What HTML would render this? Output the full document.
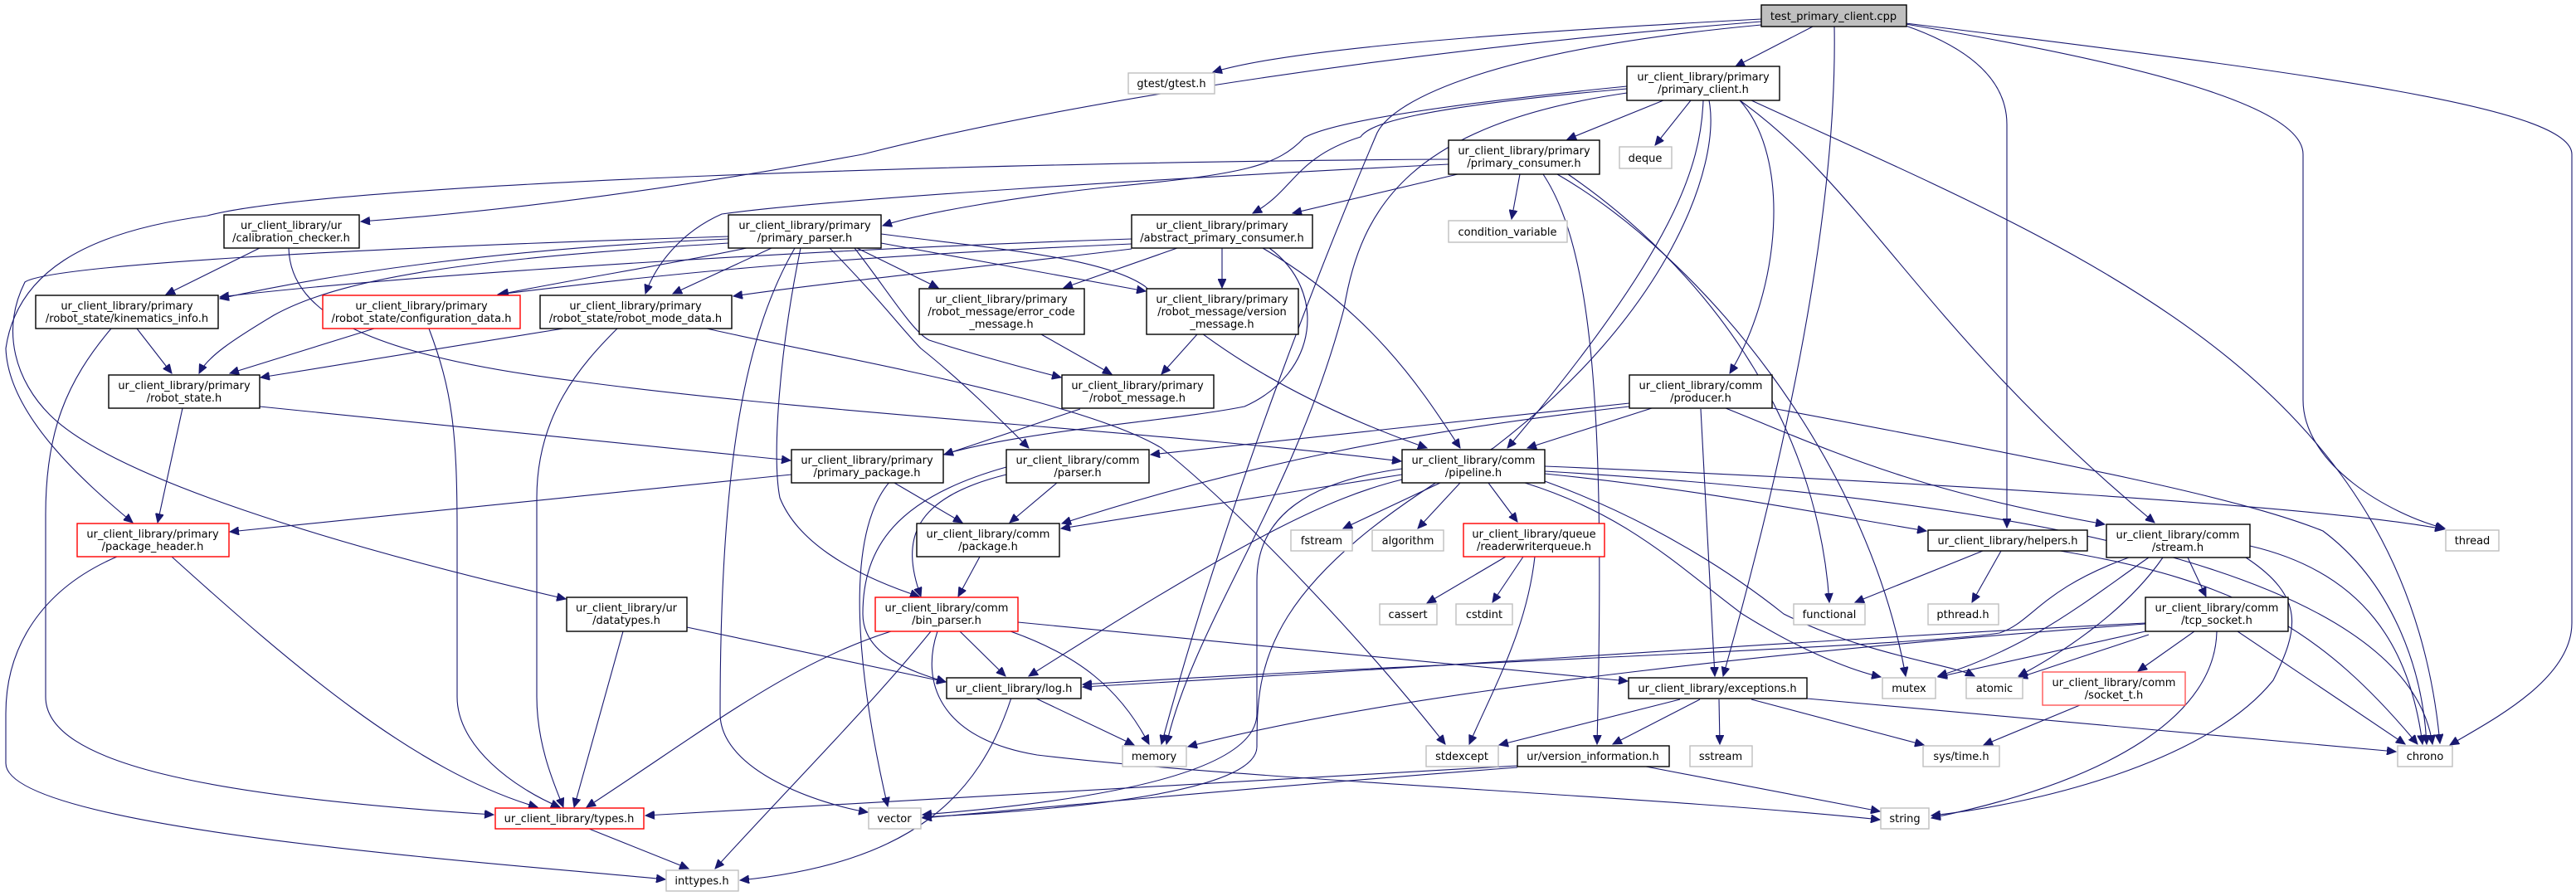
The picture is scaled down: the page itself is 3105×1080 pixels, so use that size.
<!DOCTYPE html>
<html><head><meta charset="utf-8"><style>
html,body{margin:0;padding:0;background:#fff;}
svg{display:block;}
text{font-family:"DejaVu Sans","Liberation Sans",sans-serif;font-size:13px;fill:#000;text-anchor:middle;}
.e{fill:none;stroke:#191970;stroke-width:1.1;marker-end:url(#a);}
.n{fill:#fff;stroke:#000;stroke-width:1.4;}
.g{fill:#fff;stroke:#bfbfbf;stroke-width:1.4;}
.r{fill:#fff;stroke:#ff0000;stroke-width:1.4;}
</style></head><body>
<svg width="3105" height="1080" viewBox="0 0 3105 1080" xmlns="http://www.w3.org/2000/svg">
<defs><marker id="a" markerUnits="userSpaceOnUse" markerWidth="12" markerHeight="10" refX="11" refY="5" orient="auto"><path d="M0,0 L11,5 L0,10 z" fill="#191970" stroke="#191970"/></marker></defs>
<g>
<!-- T -->
<path class="e" d="M2187,31 L2092,80"/>
<path class="e" d="M2211,31 C2214,200 2180,450 2077,815"/>
<path class="e" d="M2297,31 C2380,60 2419,100 2419,150 L2419,636"/>
<path class="e" d="M2297,29 C2600,80 2776,130 2776,186 L2776,482 C2776,560 2880,620 2947,637"/>
<path class="e" d="M2297,28 C2800,90 3100,130 3100,186 L3100,751 C3100,820 3000,870 2953,898"/>
<path class="e" d="M2123,23 C1800,40 1550,60 1462,87"/>
<path class="e" d="M2123,26 C1700,60 1300,120 1040,186 C800,230 600,255 435,267"/>
<path class="e" d="M2123,30 C1800,60 1680,120 1660,160 C1600,300 1480,600 1400,897"/>
<!-- PC -->
<path class="e" d="M1961,112 C1700,150 1640,250 1620,372 C1560,600 1440,750 1406,897"/>
<path class="e" d="M2005,121 L1889,168"/>
<path class="e" d="M2038,121 L1995,175"/>
<path class="e" d="M1961,107 C1700,130 1650,150 1640,165 C1560,190 1560,230 1510,257"/>
<path class="e" d="M1961,104 C1700,130 1600,150 1572,166 C1540,200 1500,210 1340,225 C1200,240 1100,260 1064,272"/>
<path class="e" d="M2053,121 C2050,200 2020,300 1817,540"/>
<path class="e" d="M2097,121 C2160,190 2146,350 2085,450"/>
<path class="e" d="M2097,121 C2250,230 2320,400 2597,630"/>
<path class="e" d="M2111,121 C2500,300 2900,450 2941,896"/>
<path class="e" d="M2060,121 C2075,200 2010,380 1800,540 C1520,700 1515,800 1515,900 C1515,965 1200,980 1112,985"/>
<!-- PCons -->
<path class="e" d="M1832,210 L1822,264"/>
<path class="e" d="M1757,210 L1558,257"/>
<path class="e" d="M1860,210 C1920,300 1935,500 1925,897"/>
<path class="e" d="M1890,210 C2050,320 2190,500 2205,726"/>
<path class="e" d="M1877,210 C2050,310 2250,550 2297,815"/>
<path class="e" d="M1746,192 C1200,195 400,220 250,260 C100,280 20,330 7,420 C10,500 100,580 160,630"/>
<path class="e" d="M1746,198 C1400,215 1000,240 870,258 C820,280 790,320 778,354"/>
<!-- apc -->
<path class="e" d="M1419,299 L1282,347"/>
<path class="e" d="M1473,299 L1473,347"/>
<path class="e" d="M1522,299 C1660,380 1720,480 1760,540"/>
<path class="e" d="M1364,288 C1000,300 500,330 265,358"/>
<path class="e" d="M1364,294 C1000,310 800,330 600,355"/>
<path class="e" d="M1364,300 C1200,320 1000,340 884,357"/>
<path class="e" d="M1530,299 C1600,350 1590,450 1500,490 C1400,510 1200,520 1100,560 C1010,600 1030,800 1070,972"/>
<!-- pparser -->
<path class="e" d="M878,288 C600,300 400,330 265,360"/>
<path class="e" d="M900,299 C800,320 700,335 602,355"/>
<path class="e" d="M930,299 L811,354"/>
<path class="e" d="M878,293 C600,310 420,330 330,380 C280,410 250,430 240,450"/>
<path class="e" d="M958,299 C900,400 868,550 868,860 C868,930 990,970 1046,979"/>
<path class="e" d="M965,299 C940,420 930,550 940,600 C960,650 1020,690 1108,719"/>
<path class="e" d="M1000,299 C1060,360 1090,400 1110,420 C1160,460 1200,500 1240,540"/>
<path class="e" d="M1030,299 C1070,350 1100,400 1120,410 C1150,420 1220,440 1279,455"/>
<path class="e" d="M1062,282 C1200,300 1330,310 1380,345 C1450,410 1550,480 1720,540"/>
<path class="e" d="M1033,299 L1131,347"/>
<path class="e" d="M1062,293 L1381,351"/>
<path class="e" d="M878,285 C400,300 60,320 30,340 C0,400 20,460 60,500 C150,590 500,680 682,722"/>
<!-- calib / state -->
<path class="e" d="M313,299 L200,355"/>
<path class="e" d="M348,299 C350,380 450,430 700,460 C1000,500 1400,520 1689,556"/>
<path class="e" d="M165,396 L207,450"/>
<path class="e" d="M134,396 C80,460 55,520 55,620 L55,840 C55,920 250,960 595,982"/>
<path class="e" d="M451,396 L277,450"/>
<path class="e" d="M517,396 C545,470 551,520 551,640 L551,840 C551,900 620,950 675,973"/>
<path class="e" d="M679,396 L314,455"/>
<path class="e" d="M744,396 C700,440 647,500 647,600 L647,840 C647,900 670,950 679,973"/>
<path class="e" d="M852,396 C1000,430 1300,480 1400,540 C1500,620 1650,780 1742,897"/>
<path class="e" d="M220,492 L190,630"/>
<path class="e" d="M313,490 L953,555"/>
<path class="e" d="M954,572 L277,641"/>
<path class="e" d="M207,671 C350,800 500,930 648,973"/>
<path class="e" d="M141,671 C50,710 7,780 7,860 L7,920 C7,1000 600,1040 802,1060"/>
<path class="e" d="M751,761 L692,973"/>
<path class="e" d="M828,756 L1140,822"/>
<path class="e" d="M710,999 L830,1047"/>
<!-- messages / comm -->
<path class="e" d="M1255,403 L1340,451"/>
<path class="e" d="M1443,403 L1400,451"/>
<path class="e" d="M1302,493 L1138,548"/>
<path class="e" d="M1078,582 L1160,630"/>
<path class="e" d="M1274,582 L1217,630"/>
<path class="e" d="M1213,572 C1100,600 1085,650 1110,719"/>
<path class="e" d="M1213,563 C1080,600 1040,660 1040,740 C1040,790 1100,810 1140,822"/>
<path class="e" d="M1181,671 L1155,719"/>
<path class="e" d="M1074,761 C950,800 850,880 707,973"/>
<path class="e" d="M1122,761 C1050,850 950,950 862,1047"/>
<path class="e" d="M1157,761 L1212,815"/>
<path class="e" d="M1218,761 C1300,790 1350,830 1385,897"/>
<path class="e" d="M1130,761 C1110,820 1130,890 1250,910 C1500,940 2000,960 2266,988"/>
<path class="e" d="M1227,750 L1962,821"/>
<path class="e" d="M1247,841 L1367,898"/>
<path class="e" d="M1219,841 C1180,960 1100,1040 892,1061"/>
<!-- pipeline -->
<path class="e" d="M1736,582 L1619,637"/>
<path class="e" d="M1760,582 L1709,637"/>
<path class="e" d="M1794,582 L1829,629"/>
<path class="e" d="M1690,572 L1279,637"/>
<path class="e" d="M1690,578 C1600,600 1500,650 1240,815"/>
<path class="e" d="M1690,565 C1580,580 1515,620 1515,700 L1515,860 C1515,950 1200,975 1112,982"/>
<path class="e" d="M1862,571 C2050,590 2200,620 2322,640"/>
<path class="e" d="M1862,562 C2300,580 2800,610 2946,638"/>
<path class="e" d="M1862,568 C2400,600 2900,680 2932,897"/>
<path class="e" d="M1838,582 C1960,620 2020,680 2100,740 C2180,790 2240,810 2267,816"/>
<path class="e" d="M1862,580 C2000,630 2100,700 2150,740 C2250,790 2350,800 2380,815"/>
<path class="e" d="M1850,671 C1840,760 1800,830 1771,897"/>
<path class="e" d="M1815,671 L1720,727"/>
<path class="e" d="M1836,671 L1799,726"/>
<!-- producer -->
<path class="e" d="M2050,493 L2067,815"/>
<path class="e" d="M1991,492 L1841,540"/>
<path class="e" d="M1964,486 L1387,548"/>
<path class="e" d="M1964,490 C1700,520 1500,560 1280,631"/>
<path class="e" d="M2080,492 C2200,540 2300,590 2537,632"/>
<path class="e" d="M2136,492 C2500,560 2700,600 2800,640 C2880,700 2920,800 2925,897"/>
<!-- helpers / stream / tcp -->
<path class="e" d="M2390,664 L2236,726"/>
<path class="e" d="M2412,664 L2377,726"/>
<path class="e" d="M2483,664 C2700,700 2800,760 2914,897"/>
<path class="e" d="M2637,672 L2659,719"/>
<path class="e" d="M2712,658 C2850,690 2905,780 2920,897"/>
<path class="e" d="M2707,672 C2780,720 2770,760 2740,820 C2660,920 2450,970 2328,983"/>
<path class="e" d="M2566,672 C2460,710 2450,750 2410,763 C2300,780 1700,800 1305,825"/>
<path class="e" d="M2590,672 C2520,720 2450,780 2336,815"/>
<path class="e" d="M2607,672 C2560,740 2480,790 2433,815"/>
<path class="e" d="M2645,761 L2577,809"/>
<path class="e" d="M2672,761 C2670,860 2550,940 2328,986"/>
<path class="e" d="M2697,761 L2899,897"/>
<path class="e" d="M2586,761 L2336,816"/>
<path class="e" d="M2590,765 L2433,817"/>
<path class="e" d="M2586,751 C2200,770 1800,800 1305,828"/>
<path class="e" d="M2586,752 C2200,780 1700,830 1432,900"/>
<path class="e" d="M2507,850 L2391,898"/>
<!-- exceptions / vi -->
<path class="e" d="M2072,843 L2073,897"/>
<path class="e" d="M2111,843 L2319,898"/>
<path class="e" d="M2178,842 L2888,906"/>
<path class="e" d="M2025,843 L1807,898"/>
<path class="e" d="M2049,843 L1944,897"/>
<path class="e" d="M1829,923 C1400,950 1000,970 778,983"/>
<path class="e" d="M1829,925 C1500,950 1300,970 1112,986"/>
<path class="e" d="M1984,924 L2266,978"/>
</g>
<g>
<rect class="n" x="2123" y="6" width="175" height="26" style="fill:#bfbfbf"/><text x="2210" y="24">test_primary_client.cpp</text>
<rect class="g" x="1360" y="88" width="104" height="25"/><text x="1412" y="105">gtest/gtest.h</text>
<rect class="n" x="1961" y="80" width="184" height="41"/><text x="2053" y="97">ur_client_library/primary</text><text x="2053" y="112">/primary_client.h</text>
<rect class="n" x="1746" y="169" width="182" height="41"/><text x="1837" y="186">ur_client_library/primary</text><text x="1837" y="201">/primary_consumer.h</text>
<rect class="g" x="1952" y="177" width="63" height="26"/><text x="1983" y="195">deque</text>
<rect class="g" x="1746" y="266" width="143" height="26"/><text x="1817" y="284">condition_variable</text>
<rect class="n" x="270" y="259" width="163" height="40"/><text x="351" y="276">ur_client_library/ur</text><text x="351" y="291">/calibration_checker.h</text>
<rect class="n" x="878" y="259" width="184" height="40"/><text x="970" y="276">ur_client_library/primary</text><text x="970" y="291">/primary_parser.h</text>
<rect class="n" x="1364" y="259" width="218" height="40"/><text x="1473" y="276">ur_client_library/primary</text><text x="1473" y="291">/abstract_primary_consumer.h</text>
<rect class="n" x="43" y="356" width="220" height="40"/><text x="153" y="373">ur_client_library/primary</text><text x="153" y="388">/robot_state/kinematics_info.h</text>
<rect class="r" x="389" y="356" width="238" height="40"/><text x="508" y="373">ur_client_library/primary</text><text x="508" y="388">/robot_state/configuration_data.h</text>
<rect class="n" x="651" y="356" width="231" height="40"/><text x="766" y="373">ur_client_library/primary</text><text x="766" y="388">/robot_state/robot_mode_data.h</text>
<rect class="n" x="1108" y="348" width="199" height="55"/><text x="1207" y="365">ur_client_library/primary</text><text x="1207" y="380">/robot_message/error_code</text><text x="1207" y="395">_message.h</text>
<rect class="n" x="1382" y="348" width="183" height="55"/><text x="1473" y="365">ur_client_library/primary</text><text x="1473" y="380">/robot_message/version</text><text x="1473" y="395">_message.h</text>
<rect class="n" x="131" y="452" width="182" height="40"/><text x="222" y="469">ur_client_library/primary</text><text x="222" y="484">/robot_state.h</text>
<rect class="n" x="1280" y="452" width="183" height="40"/><text x="1371" y="469">ur_client_library/primary</text><text x="1371" y="484">/robot_message.h</text>
<rect class="n" x="1964" y="452" width="172" height="40"/><text x="2050" y="469">ur_client_library/comm</text><text x="2050" y="484">/producer.h</text>
<rect class="n" x="954" y="542" width="183" height="40"/><text x="1045" y="559">ur_client_library/primary</text><text x="1045" y="574">/primary_package.h</text>
<rect class="n" x="1213" y="542" width="172" height="40"/><text x="1299" y="559">ur_client_library/comm</text><text x="1299" y="574">/parser.h</text>
<rect class="n" x="1690" y="542" width="172" height="40"/><text x="1776" y="559">ur_client_library/comm</text><text x="1776" y="574">/pipeline.h</text>
<rect class="r" x="93" y="631" width="183" height="40"/><text x="184" y="648">ur_client_library/primary</text><text x="184" y="663">/package_header.h</text>
<rect class="n" x="1105" y="631" width="172" height="40"/><text x="1191" y="648">ur_client_library/comm</text><text x="1191" y="663">/package.h</text>
<rect class="r" x="1764" y="631" width="170" height="40"/><text x="1849" y="648">ur_client_library/queue</text><text x="1849" y="663">/readerwriterqueue.h</text>
<rect class="n" x="2539" y="632" width="173" height="40"/><text x="2625" y="649">ur_client_library/comm</text><text x="2625" y="664">/stream.h</text>
<rect class="g" x="1556" y="639" width="74" height="25"/><text x="1593" y="656">fstream</text>
<rect class="g" x="1654" y="639" width="86" height="25"/><text x="1697" y="656">algorithm</text>
<rect class="n" x="2324" y="639" width="192" height="25"/><text x="2420" y="656">ur_client_library/helpers.h</text>
<rect class="g" x="2948" y="639" width="64" height="25"/><text x="2980" y="656">thread</text>
<rect class="n" x="683" y="720" width="145" height="41"/><text x="755" y="737">ur_client_library/ur</text><text x="755" y="752">/datatypes.h</text>
<rect class="r" x="1055" y="720" width="172" height="41"/><text x="1141" y="737">ur_client_library/comm</text><text x="1141" y="752">/bin_parser.h</text>
<rect class="n" x="2586" y="720" width="172" height="41"/><text x="2672" y="737">ur_client_library/comm</text><text x="2672" y="752">/tcp_socket.h</text>
<rect class="g" x="1663" y="728" width="69" height="25"/><text x="1697" y="745">cassert</text>
<rect class="g" x="1755" y="728" width="68" height="25"/><text x="1789" y="745">cstdint</text>
<rect class="g" x="2162" y="728" width="86" height="25"/><text x="2205" y="745">functional</text>
<rect class="g" x="2324" y="728" width="85" height="25"/><text x="2366" y="745">pthread.h</text>
<rect class="n" x="1141" y="817" width="162" height="25"/><text x="1222" y="834">ur_client_library/log.h</text>
<rect class="n" x="1963" y="817" width="215" height="25"/><text x="2070" y="834">ur_client_library/exceptions.h</text>
<rect class="g" x="2269" y="817" width="64" height="25"/><text x="2301" y="834">mutex</text>
<rect class="g" x="2370" y="817" width="68" height="25"/><text x="2404" y="834">atomic</text>
<rect class="r" x="2462" y="810" width="172" height="40" style="stroke:#ff5555"/><text x="2548" y="827">ur_client_library/comm</text><text x="2548" y="842">/socket_t.h</text>
<rect class="g" x="1353" y="899" width="77" height="25"/><text x="1391" y="916">memory</text>
<rect class="g" x="1719" y="899" width="87" height="25"/><text x="1762" y="916">stdexcept</text>
<rect class="n" x="1829" y="899" width="183" height="25"/><text x="1920" y="916">ur/version_information.h</text>
<rect class="g" x="2037" y="899" width="75" height="25"/><text x="2074" y="916">sstream</text>
<rect class="g" x="2318" y="899" width="92" height="25"/><text x="2364" y="916">sys/time.h</text>
<rect class="g" x="2890" y="899" width="66" height="25"/><text x="2923" y="916">chrono</text>
<rect class="r" x="597" y="974" width="179" height="25"/><text x="686" y="991">ur_client_library/types.h</text>
<rect class="g" x="1047" y="974" width="63" height="25"/><text x="1078" y="991">vector</text>
<rect class="g" x="2267" y="974" width="58" height="25"/><text x="2296" y="991">string</text>
<rect class="g" x="803" y="1049" width="87" height="25"/><text x="846" y="1066">inttypes.h</text>
</g>
</svg>
</body></html>
